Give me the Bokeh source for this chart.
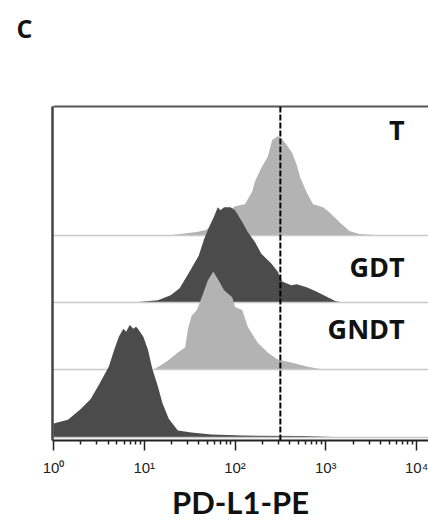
import numpy as np
from bokeh.plotting import figure
from bokeh.models import Range1d, FixedTicker, LogAxis, Span
from bokeh.core.properties import value
from bokeh.embed import file_html
from bokeh.resources import INLINE

# ---------------- data (log10 PD-L1-PE intensity, normalised event count) ----------------
t_log = [1.10, 1.30, 1.58, 1.68, 1.79, 1.90, 2.00, 2.11, 2.19, 2.22, 2.29, 2.36, 2.41, 2.47,
         2.51, 2.57, 2.63, 2.68, 2.72, 2.79, 2.86, 2.97, 3.04, 3.15, 3.26, 3.37, 3.54, 3.57]
t_cnt = [0, 1, 4, 6, 14, 23, 30, 32, 45, 55, 69, 80, 97, 101,
         99, 92, 84, 72, 59, 44, 32, 29, 24, 14, 5, 2, 1, 0]

gdt_log = [0.90, 1.15, 1.29, 1.39, 1.50, 1.60, 1.66, 1.72, 1.77, 1.81, 1.84, 1.88, 1.95, 2.00,
           2.08, 2.14, 2.22, 2.29, 2.40, 2.47, 2.52, 2.62, 2.68, 2.79, 2.89, 3.00, 3.11, 3.18]
gdt_cnt = [0, 2, 7, 14, 31, 47, 64, 77, 87, 96, 93, 96, 96, 93,
           81, 71, 61, 49, 39, 31, 21, 17, 18, 15, 11, 6, 1, 0]

gndt_log = [1.11, 1.23, 1.29, 1.37, 1.45, 1.48, 1.52, 1.58, 1.65, 1.70, 1.76, 1.82, 1.88,
            1.97, 2.00, 2.08, 2.14, 2.25, 2.36, 2.47, 2.62, 2.79, 2.95]
gndt_cnt = [0, 7, 11, 17, 22, 40, 54, 60, 77, 90, 99, 90, 80,
            73, 63, 60, 43, 27, 17, 10, 7, 3, 0]

ctrl_log = [0.00, 0.03, 0.16, 0.30, 0.41, 0.51, 0.61, 0.67, 0.72, 0.77, 0.80, 0.84, 0.88,
            0.91, 0.93, 0.99, 1.04, 1.09, 1.15, 1.20, 1.27, 1.37, 1.52, 1.74, 2.09, 2.76,
            3.08, 3.29]
ctrl_cnt = [14, 15, 18, 29, 39, 55, 72, 89, 102, 110, 107, 114, 110,
            112, 110, 102, 89, 69, 52, 35, 19, 7, 5, 3, 2, 1.5,
            0.5, 0]

sample_names = ["T", "GDT", "GNDT", ""]
sample_logs = [t_log, gdt_log, gndt_log, ctrl_log]
sample_cnts = [t_cnt, gdt_cnt, gndt_cnt, ctrl_cnt]

threshold = 316  # 10^2.5

tick_values = [1, 10, 100, 1000, 10000]
tick_labels = ["10\u2070", "10\u00b9", "10\u00b2", "10\u00b3", "10\u2074"]

# ---------------- styling / layout ----------------
LIGHT = "#b3b3b3"
DARK = "#4b4b4b"
sample_colors = [LIGHT, DARK, LIGHT, DARK]
lane_offsets = [204, 137, 69, 0]
label_heights = [108, 36, 41, None]

p = figure(width=428, height=523, x_axis_type="log",
           x_range=Range1d(10 ** -0.011, 10 ** 4.132), y_range=Range1d(-3, 335),
           output_backend="svg", toolbar_location=None,
           min_border_left=52, min_border_right=0, min_border_top=106, min_border_bottom=79)
p.grid.visible = False
p.outline_line_color = None
p.background_fill_color = "white"

for logs, cnts, col, off in zip(sample_logs, sample_cnts, sample_colors, lane_offsets):
    xs = [10 ** v for v in logs]
    ys = [off + c for c in cnts]
    p.varea(x=xs, y1=[off] * len(xs), y2=ys, fill_color=col, fill_alpha=1.0)
    p.hspan(y=[off], line_color="#c9c9c9", line_width=1.5)

lx, ly, lt = [], [], []
for name, off, h in zip(sample_names, lane_offsets, label_heights):
    if name:
        lx.append(10 ** 3.87)
        ly.append(off + h)
        lt.append(name)
p.text(x=lx, y=ly, text=lt, text_align="right", text_baseline="middle",
       text_font=value("Open Sans"), text_font_style="bold", text_font_size="27px",
       text_color="#111111")

p.add_layout(Span(location=threshold, dimension="height", line_color="black",
                  line_width=2, line_dash="6 2"))

# x axis
xa = p.xaxis[0]
minor = [k * 10 ** d for d in range(0, 4) for k in range(2, 10)]
xa.ticker = FixedTicker(ticks=tick_values, minor_ticks=minor)
xa.major_label_overrides = {v: s for v, s in zip(tick_values, tick_labels)}
xa.axis_line_color = "#222222"
xa.axis_line_width = 2
xa.major_tick_line_color = "#222222"
xa.major_tick_line_width = 1.5
xa.major_tick_in = 0
xa.major_tick_out = 10
xa.minor_tick_line_color = "#222222"
xa.minor_tick_line_width = 1.5
xa.minor_tick_in = 0
xa.minor_tick_out = 4
xa.major_label_text_font = "Liberation Sans"
xa.major_label_text_font_size = "15px"
xa.major_label_text_color = "#222222"
xa.major_label_standoff = 8
xa.axis_label = "PD-L1-PE"
xa.axis_label_text_font = "Lato"
xa.axis_label_text_font_style = "bold"
xa.axis_label_text_font_size = "31px"
xa.axis_label_text_color = "#111111"
xa.axis_label_standoff = 4

# left border via y axis (no ticks)
ya = p.yaxis[0]
ya.ticker = FixedTicker(ticks=[])
ya.axis_line_color = "#444444"
ya.axis_line_width = 2.5
ya.major_tick_line_color = None
ya.minor_tick_line_color = None

# top border via an axis whose single white tick only spaces out the panel title
top = LogAxis(ticker=FixedTicker(ticks=[tick_values[0]], minor_ticks=[]),
              axis_line_color="#555555", axis_line_width=2,
              major_tick_line_color="white", minor_tick_line_color=None,
              major_tick_in=0, major_tick_out=56,
              major_label_overrides={tick_values[0]: ""},
              major_label_text_font_size="1px", major_label_standoff=0)
p.add_layout(top, "above")

p.title.text = "C"
p.title.text_font = "Open Sans"
p.title.text_font_style = "bold"
p.title.text_font_size = "25px"
p.title.text_color = "#111111"
p.title.align = "left"
p.title.offset = -36
p.title.standoff = 12

open("out.html", "w").write(file_html(p, INLINE))
